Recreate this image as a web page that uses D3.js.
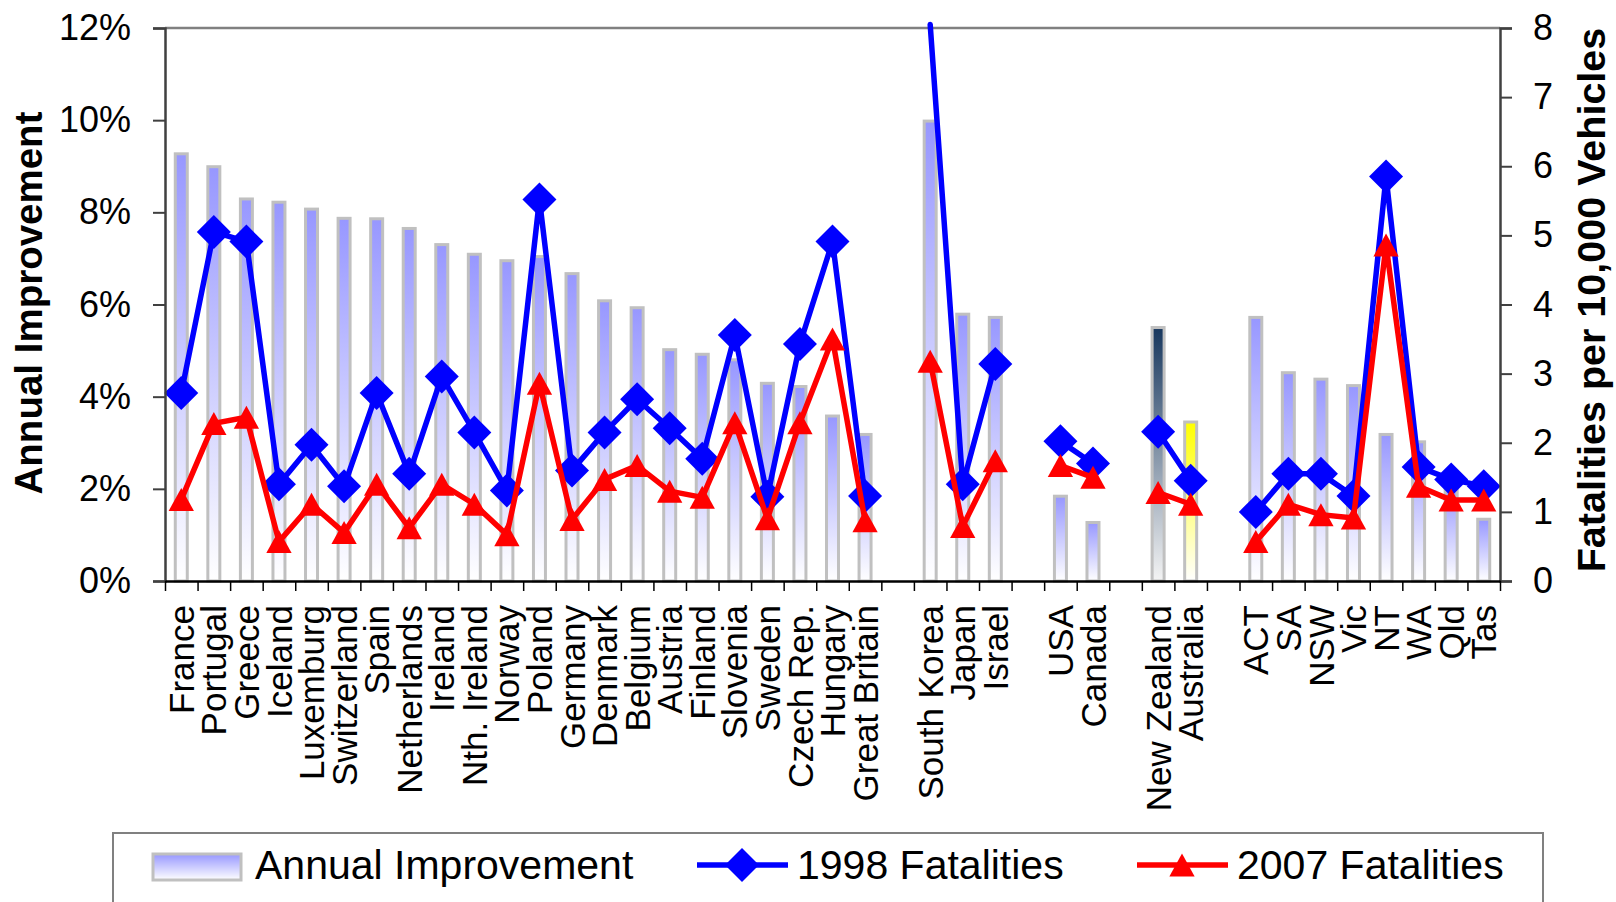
<!DOCTYPE html>
<html>
<head>
<meta charset="utf-8">
<script src="https://cdn.jsdelivr.net/npm/d3@7"></script>
<style>
  body { margin: 0; background: #fff; }
  svg { display: block; font-family: "Liberation Sans", Arial, sans-serif; }
</style>
</head>
<body>
<svg width="1616" height="902"></svg>
<script>
// categories, null = empty slot between groups
const categories = ["France","Portugal","Greece","Iceland","Luxemburg","Switzerland","Spain","Netherlands",
  "Ireland","Nth. Ireland","Norway","Poland","Germany","Denmark","Belgium","Austria","Finland","Slovenia",
  "Sweden","Czech Rep.","Hungary","Great Britain", null,
  "South Korea","Japan","Israel", null,
  "USA","Canada", null,
  "New Zealand","Australia", null,
  "ACT","SA","NSW","Vic","NT","WA","Qld","Tas"];

// annual improvement (%)
const improvement = [9.27, 8.99, 8.29, 8.22, 8.07, 7.87, 7.86, 7.65, 7.30, 7.09, 6.95, 7.04, 6.67, 6.08,
  5.93, 5.02, 4.92, 4.80, 4.29, 4.22, 3.58, 3.18, null,
  9.98, 5.79, 5.72, null,
  1.84, 1.27, null,
  5.50, 3.45, null,
  5.72, 4.52, 4.38, 4.24, 3.18, 3.02, 2.0, 1.34];

// fatalities per 10,000 vehicles
const fatal1998 = [2.72, 5.05, 4.91, 1.40, 1.97, 1.37, 2.72, 1.55, 2.96, 2.15, 1.31, 5.52, 1.60, 2.15,
  2.63, 2.21, 1.77, 3.56, 1.22, 3.43, 4.91, 1.23, null,
  8.05, 1.40, 3.14, null,
  2.02, 1.70, null,
  2.16, 1.45, null,
  1.00, 1.55, 1.55, 1.23, 5.85, 1.65, 1.47, 1.37];

const fatal2007 = [1.18, 2.28, 2.37, 0.57, 1.11, 0.70, 1.40, 0.77, 1.40, 1.11, 0.67, 2.86, 0.89, 1.47,
  1.67, 1.30, 1.21, 2.29, 0.90, 2.29, 3.50, 0.87, null,
  3.18, 0.79, 1.74, null,
  1.67, 1.50, null,
  1.28, 1.11, null,
  0.57, 1.11, 0.96, 0.91, 4.86, 1.37, 1.17, 1.17];

const leftTicks = [0, 2, 4, 6, 8, 10, 12];
const rightTicks = [0, 1, 2, 3, 4, 5, 6, 7, 8];

const L = 165, R = 1500, T = 28, B = 581;
const svg = d3.select('svg');
const defs = svg.append('defs');

function grad(id, top, bottom) {
  const g = defs.append('linearGradient').attr('id', id)
    .attr('x1', 0).attr('y1', 0).attr('x2', 0).attr('y2', 1);
  g.append('stop').attr('offset', '0%').attr('stop-color', top);
  g.append('stop').attr('offset', '100%').attr('stop-color', bottom);
}
grad('gBlue', '#9797ff', '#ffffff');
grad('gNavy', '#17375e', '#f4f4f4');
grad('gYellow', '#ffff00', '#ffffff');

const idx = d3.range(categories.length);
const x = d3.scaleBand().domain(idx).range([L, R]);
const xEdge = d3.scaleLinear().domain([0, categories.length]).range([L, R]);
const yL = d3.scaleLinear().domain([0, 12]).range([B, T]);
const yR = d3.scaleLinear().domain([0, 8]).range([B, T]);

// top border of plot
svg.append('line').attr('x1', L).attr('x2', R).attr('y1', T).attr('y2', T)
  .attr('stroke', '#808080').attr('stroke-width', 2.5);

// bars
const barW = 12;
svg.append('g').selectAll('rect')
  .data(idx.filter(i => improvement[i] != null))
  .join('rect')
  .attr('x', i => x(i) + x.bandwidth() / 2 - barW / 2)
  .attr('y', i => yL(improvement[i]))
  .attr('width', barW)
  .attr('height', i => B - yL(improvement[i]))
  .attr('fill', i => categories[i] === 'New Zealand' ? 'url(#gNavy)' : categories[i] === 'Australia' ? 'url(#gYellow)' : 'url(#gBlue)')
  .attr('stroke', '#c0c0c0').attr('stroke-width', 3);

// markers
const diamond = { draw(ctx, s) { const r = Math.sqrt(s); ctx.moveTo(0, -r); ctx.lineTo(r, 0); ctx.lineTo(0, r); ctx.lineTo(-r, 0); ctx.closePath(); } };
const tri = { draw(ctx, s) { const h = Math.sqrt(s); ctx.moveTo(0, -h); ctx.lineTo(h * 1.1, h); ctx.lineTo(-h * 1.1, h); ctx.closePath(); } };

function series(vals, color, type, size) {
  const g = svg.append('g');
  const line = d3.line()
    .defined(i => vals[i] != null)
    .x(i => x(i) + x.bandwidth() / 2)
    .y(i => yR(vals[i]));
  g.append('path').datum(idx).attr('d', line)
    .attr('fill', 'none').attr('stroke', color).attr('stroke-width', 5.5)
    .attr('stroke-linejoin', 'round').attr('stroke-linecap', 'round');
  g.selectAll('path.m')
    .data(idx.filter(i => vals[i] != null && vals[i] <= 8))
    .join('path').attr('class', 'm')
    .attr('transform', i => `translate(${x(i) + x.bandwidth() / 2},${yR(vals[i])})`)
    .attr('d', d3.symbol().type(type).size(size))
    .attr('fill', color);
}
series(fatal1998, '#0000ff', diamond, 17 * 17);
series(fatal2007, '#ff0000', tri, 11.5 * 11.5);

// axes
const fs = 36;
const ax = svg.append('g').attr('transform', `translate(${L},0)`)
  .call(d3.axisLeft(yL).tickValues(leftTicks).tickFormat(d => d + '%').tickSize(12).tickPadding(22));
const axR = svg.append('g').attr('transform', `translate(${R},0)`)
  .call(d3.axisRight(yR).tickValues(rightTicks).tickSize(12).tickPadding(21));
[ax, axR].forEach(a => {
  a.select('.domain').attr('stroke', '#404040').attr('stroke-width', 2.5);
  a.selectAll('.tick line').attr('stroke', '#404040').attr('stroke-width', 2);
  a.selectAll('text').attr('font-size', fs).attr('font-family', 'Liberation Sans, Arial, sans-serif').attr('fill', '#000');
});

const axB = svg.append('g').attr('transform', `translate(0,${B})`)
  .call(d3.axisBottom(xEdge).tickValues(d3.range(categories.length + 1)).tickFormat('').tickSize(10).tickSizeOuter(0));
axB.select('.domain').attr('stroke', '#000').attr('stroke-width', 2.5);
axB.selectAll('.tick line').attr('stroke', '#000').attr('stroke-width', 1.5);

const axLab = svg.append('g').attr('transform', `translate(0,${B})`)
  .call(d3.axisBottom(x).tickFormat(i => categories[i] || '').tickSize(0));
axLab.select('.domain').remove();
axLab.selectAll('text')
  .attr('transform', 'rotate(-90)')
  .attr('x', -24).attr('y', 0).attr('dy', '0.36em')
  .attr('text-anchor', 'end')
  .attr('font-size', 35).attr('font-family', 'Liberation Sans, Arial, sans-serif').attr('fill', '#000');

// axis titles
svg.append('text').attr('transform', 'translate(42,303) rotate(-90)')
  .attr('text-anchor', 'middle').attr('font-size', 38.5).attr('font-weight', 'bold')
  .text('Annual Improvement');
svg.append('text').attr('transform', 'translate(1605,300) rotate(-90)')
  .attr('text-anchor', 'middle').attr('font-size', 39.5).attr('font-weight', 'bold')
  .text('Fatalities per 10,000 Vehicles');

// legend
const lg = svg.append('g');
lg.append('rect').attr('x', 113).attr('y', 833).attr('width', 1430).attr('height', 90)
  .attr('fill', '#fff').attr('stroke', '#808080').attr('stroke-width', 2);
lg.append('rect').attr('x', 153).attr('y', 854).attr('width', 88).attr('height', 26)
  .attr('fill', 'url(#gBlue)').attr('stroke', '#c0c0c0').attr('stroke-width', 3);
lg.append('line').attr('x1', 697).attr('x2', 788).attr('y1', 865).attr('y2', 865)
  .attr('stroke', '#0000ff').attr('stroke-width', 5.5);
lg.append('path').attr('transform', 'translate(742,865)').attr('d', d3.symbol().type(diamond).size(17 * 17)).attr('fill', '#0000ff');
lg.append('line').attr('x1', 1137).attr('x2', 1228).attr('y1', 865).attr('y2', 865)
  .attr('stroke', '#ff0000').attr('stroke-width', 5.5);
lg.append('path').attr('transform', 'translate(1182,865)').attr('d', d3.symbol().type(tri).size(11.5 * 11.5)).attr('fill', '#ff0000');
const legendNames = ['Annual Improvement', '1998 Fatalities', '2007 Fatalities'];
const legendX = [255, 797, 1237];
lg.selectAll('text.l').data(legendNames).join('text').attr('class', 'l')
  .attr('x', (d, i) => legendX[i]).attr('y', 879)
  .attr('font-size', 41).attr('fill', '#000').text(d => d);
</script>
</body>
</html>
